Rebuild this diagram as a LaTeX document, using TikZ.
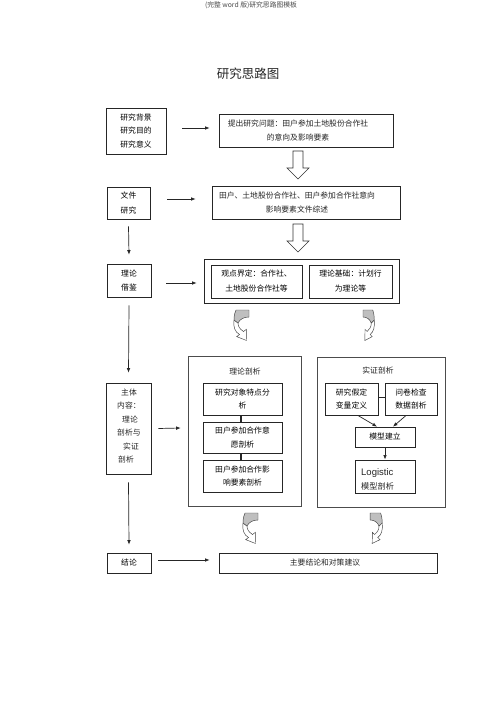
\documentclass[tikz,border=0pt]{standalone}
\usepackage{fontspec}
\setmainfont{Liberation Serif}
\newfontfamily\cjk{Noto Sans CJK SC}
\newfontfamily\arialf{Liberation Sans}
\usetikzlibrary{arrows.meta}
\tikzset{
  box/.style={draw=black!85, line width=0.7pt, inner sep=0pt, align=center},
  sbox/.style={box, line width=1.0pt},
  txt/.style={inner sep=0pt, align=center, text=black!85},
  arr/.style={draw=black!85, line width=0.7pt, -{Latex[length=4.5pt,width=3.6pt]}},
  pics/downarr/.style={code={
    \path[draw=black!80, line width=0.6pt, fill=white] (-5,0) -- (5,0) -- (5,17) -- (11,17) -- (0,28) -- (-11,17) -- (-5,17) -- cycle;
  }},
  pics/curv/.style={code={
    \path[draw=black!75, line width=0.45pt, fill=white] (1,10) .. controls (0,17) and (2,22) .. (6.5,24.5) -- (3.7,26.6) -- (13.5,30.5) -- (13.3,19.4) -- (10.5,21.5) .. controls (7,19) and (5,17) .. (5,13) -- cycle;
    \path[draw=black!75, line width=0.45pt, fill=black!25] (3,0) -- (16,0) -- (16,7) .. controls (11,7) and (7,9) .. (5,13) -- (1,10) .. controls (1,5) and (2,2) .. (3,0) -- cycle;
  }}
}
\begin{document}
\begin{tikzpicture}[x=1pt,y=-1pt, font=\cjk\fontsize{7.8}{13.5}\selectfont]
\useasboundingbox (0,0) rectangle (500,708);
\fill[white] (0,0) rectangle (500,708);

% header and title
\node[txt, font=\cjk\fontsize{6.8}{8}\selectfont, text=black!70] (hdr) at (251,5) {(完整 word 版)研究思路图模板};
\node[txt, font=\cjk\fontsize{12.5}{14}\selectfont] (title) at (248,74) {研究思路图};

% left column
\node[box, minimum width=60pt, minimum height=46pt] (b1) at (136,131) {研究背景\\研究目的\\研究意义};
\node[box, minimum width=43pt, minimum height=32pt, font=\cjk\fontsize{7.8}{14.5}\selectfont] (b2) at (128.5,203) {文件\\研究};
\node[box, minimum width=44pt, minimum height=33pt, font=\cjk\fontsize{7.8}{14.5}\selectfont] (b3) at (129,280.5) {理论\\借鉴};
\node[box, minimum width=45pt, minimum height=91pt] (b4) at (128.5,428.5) {};
\node[txt, anchor=north west, align=left] (b4t) at (117,388.5) {\hspace*{4pt}主体\\内容：\\\hspace*{5pt}理论\\剖析与\\\hspace*{6pt}实证\\\hspace*{1pt}剖析};
\node[box, minimum width=44pt, minimum height=20pt] (b5) at (129,563) {结论};

% right column top
\node[box, minimum width=174pt, minimum height=33pt] (r1) at (306,130.5) {};
\node[txt] (r1t) at (298,130.5) {提出研究问题：田户参加土地股份合作社\\的意向及影响要素};
\node[box, minimum width=188pt, minimum height=33pt] (r2) at (306,202.5) {};
\node[txt, font=\cjk\fontsize{7.8}{14.5}\selectfont] (r2t) at (297,202.5) {田户、土地股份合作社、田户参加合作社意向\\影响要素文件综述};
\node[box, minimum width=195pt, minimum height=44pt] (r3) at (301.5,281) {};
\node[sbox, minimum width=91pt, minimum height=33pt, font=\cjk\fontsize{7.8}{15}\selectfont] (r3a) at (256.5,281.5) {观点界定：合作社、\\土地股份合作社等};
\node[sbox, minimum width=83pt, minimum height=33pt, font=\cjk\fontsize{7.8}{15}\selectfont] (r3b) at (350.5,281.5) {理论基础：计划行\\为理论等};

\pic at (298,151) {downarr};
\pic at (298,224) {downarr};

% theory analysis box
\node[box, draw=black!70, minimum width=113pt, minimum height=150pt] (L) at (244.5,431) {};
\node[txt] (Lt) at (245,372) {理论剖析};
\node[sbox, minimum width=79pt, minimum height=32pt] (L1) at (242.5,399) {研究对象特点分\\析};
\node[sbox, minimum width=79pt, minimum height=31pt] (L2) at (242.5,437.5) {田户参加合作意\\愿剖析};
\node[sbox, minimum width=79pt, minimum height=32pt] (L3) at (242.5,476) {田户参加合作影\\响要素剖析};
\draw[black!85, line width=1.1pt] ([xshift=-1.5pt]L1.south) -- ([xshift=-1.5pt]L2.north);
\draw[black!85, line width=1.1pt] ([xshift=-1.5pt]L2.south) -- ([xshift=-1.5pt]L3.north);

% empirical analysis box
\node[box, draw=black!70, minimum width=128pt, minimum height=150pt] (R) at (381,432) {};
\node[txt] (Rt) at (378,371) {实证剖析};
\node[sbox, minimum width=53pt, minimum height=32pt] (R1) at (351.5,399) {研究假定\\变量定义};
\node[sbox, minimum width=52pt, minimum height=32pt] (R2) at (411,399) {问卷检查\\数据剖析};
\node[box, minimum width=60pt, minimum height=20pt] (R3) at (385,437) {模型建立};
\node[sbox, minimum width=60pt, minimum height=33pt] (R4) at (385,476.5) {};
\node[txt, anchor=west, align=left, font=\cjk\fontsize{8.2}{14}\selectfont] (R4t) at (361,479) {{\arialf\fontsize{9.5}{10}\selectfont Logistic}\\模型剖析};
\draw[black!85, line width=0.7pt] ([yshift=2pt]R1.east) -- ([yshift=2pt]R2.west);
\draw[arr] ([xshift=6.5pt]R1.south) -- ([xshift=-8pt]R3.north);
\draw[arr] ([xshift=-5pt]R2.south) -- ([xshift=8pt]R3.north);
\draw[arr] (R3.south) -- (R4.north);

% bottom
\node[box, minimum width=218pt, minimum height=20pt] (r5) at (328,563) {};
\node[txt] (r5t) at (325,563) {主要结论和对策建议};

% curved arrows
\pic at (233,310) {curv};
\pic[xscale=-0.75] at (375,310) {curv};
\pic at (242,513) {curv};
\pic[xscale=-0.8] at (383,513) {curv};

% horizontal arrows
\draw[arr] ([xshift=16pt,yshift=3pt]b1.east) -- ([xshift=-9pt,yshift=2.5pt]r1.west);
\draw[arr] ([xshift=17pt,yshift=4pt]b2.east) -- ([xshift=-16pt,yshift=3.5pt]r2.west);
\draw[arr] ([xshift=15pt,yshift=-2.5pt]b3.east) -- ([xshift=-7pt,yshift=-2pt]r3.west);
\draw[arr] ([xshift=7pt]b4.east) -- ([xshift=-7pt,yshift=3pt]L.west);
\draw[arr] ([xshift=7pt,yshift=3pt]b5.east) -- ([xshift=-9pt,yshift=3pt]r5.west);

% vertical arrows
\draw[arr] ([yshift=-7pt]b2.south) -- ([yshift=9pt]b3.north);
\draw[arr] ([yshift=-8pt]b3.south) -- ([yshift=10pt]b4.north);
\draw[arr] ([yshift=-8pt]b4.south) -- ([yshift=8pt]b5.north);
\end{tikzpicture}
\end{document}
